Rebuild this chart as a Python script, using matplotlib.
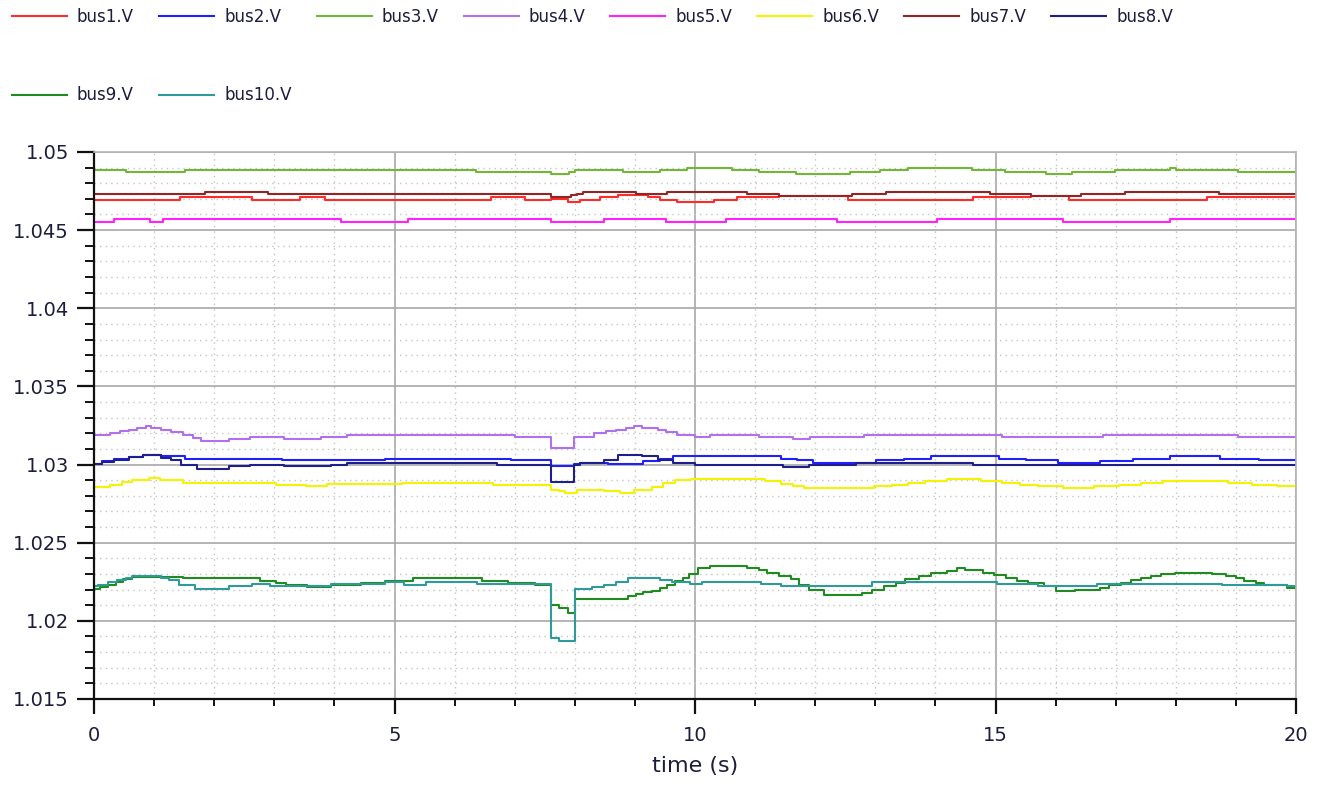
import matplotlib
matplotlib.use("Agg")
import matplotlib.pyplot as plt
from matplotlib.ticker import MultipleLocator, FuncFormatter

# step-wise readings of each bus voltage (time in s, value in pu)
t1 = [0, 1.43, 2.63, 3.42, 3.85, 6.61, 7.17, 7.6, 7.89, 8.09, 8.42, 8.72, 9.21, 9.41, 9.7,
      10.31, 10.69, 11.4, 12.54, 14.62, 15.59, 16.23, 18.52, 20]
v1 = [1.04694, 1.04709, 1.04694, 1.04709, 1.04694, 1.04709, 1.04694, 1.04702, 1.04681, 1.04694,
      1.04709, 1.04723, 1.04709, 1.04694, 1.04681, 1.04694, 1.04709, 1.04719, 1.04694, 1.04709,
      1.04719, 1.04694, 1.04709, 1.04709]

t2 = [0, 0.13, 0.33, 0.59, 0.82, 1.12, 1.51, 3.13, 4.84, 6.94, 7.6, 7.99, 8.09, 8.55, 9.14, 9.41,
      9.64, 10.0, 11.43, 11.69, 11.96, 13.01, 13.47, 13.93, 15.05, 15.51, 16.04, 16.73, 17.29,
      17.91, 18.73, 19.39, 20]
v2 = [1.03006, 1.03021, 1.03036, 1.03049, 1.03064, 1.03057, 1.03038, 1.03026, 1.03038, 1.03026,
      1.02989, 1.03006, 1.03011, 1.03004, 1.03021, 1.03036, 1.03057, 1.03053, 1.03038, 1.03026,
      1.03011, 1.03026, 1.03038, 1.03053, 1.03038, 1.03026, 1.03011, 1.03021, 1.03038, 1.03053,
      1.03038, 1.03026, 1.03026]

t3 = [0, 0.53, 1.51, 6.35, 7.6, 7.9, 8.0, 8.8, 9.41, 9.87, 10.61, 11.07, 11.68, 12.58, 13.08,
      13.54, 14.6, 15.15, 15.84, 16.27, 16.99, 17.91, 18.01, 19.03, 20]
v3 = [1.04885, 1.04872, 1.04885, 1.04872, 1.0486, 1.04872, 1.04885, 1.04872, 1.04885, 1.0490,
      1.04885, 1.04872, 1.0486, 1.04872, 1.04885, 1.0490, 1.04885, 1.04872, 1.0486, 1.04872,
      1.04885, 1.0490, 1.04885, 1.04872, 1.04872]

t4 = [0, 0.26, 0.43, 0.59, 0.72, 0.86, 0.95, 1.12, 1.28, 1.48, 1.64, 1.78, 2.24, 2.6, 3.16, 3.78,
      4.21, 7.0, 7.6, 7.99, 8.32, 8.52, 8.68, 8.85, 8.98, 9.11, 9.38, 9.51, 9.7, 10.0, 10.25,
      11.07, 11.63, 11.92, 12.81, 15.11, 16.79, 19.03, 20]
v4 = [1.03191, 1.03202, 1.03213, 1.03223, 1.03234, 1.03245, 1.03234, 1.03223, 1.03209, 1.03191,
      1.0317, 1.03153, 1.03166, 1.03179, 1.03166, 1.03179, 1.03191, 1.03179, 1.03106, 1.03179,
      1.03202, 1.03213, 1.03223, 1.03234, 1.03245, 1.03234, 1.03223, 1.03209, 1.03191, 1.03179,
      1.03191, 1.03179, 1.03166, 1.03179, 1.03191, 1.03179, 1.03191, 1.03179, 1.03179]

t5 = [0, 0.33, 0.93, 1.15, 4.11, 5.23, 7.6, 8.49, 9.51, 10.51, 12.36, 14.03, 16.13, 17.91, 20]
v5 = [1.04555, 1.04568, 1.04555, 1.04568, 1.04555, 1.04568, 1.04555, 1.04568, 1.04555, 1.04568,
      1.04555, 1.04568, 1.04555, 1.04568, 1.04568]

t6 = [0, 0.26, 0.46, 0.63, 0.92, 1.09, 1.48, 3.03, 3.52, 3.88, 5.13, 6.64, 7.6, 7.73, 7.83, 8.03,
      8.49, 8.75, 8.98, 9.28, 9.47, 9.67, 9.93, 11.17, 11.43, 11.63, 11.82, 12.02, 12.98, 13.27,
      13.54, 13.83, 14.19, 14.75, 15.11, 15.41, 15.71, 16.13, 16.63, 17.05, 17.42, 17.78, 18.86,
      19.26, 19.69, 20]
v6 = [1.02855, 1.02872, 1.02887, 1.02898, 1.02911, 1.02898, 1.02885, 1.02872, 1.0286, 1.02877,
      1.02885, 1.02872, 1.0284, 1.0283, 1.02821, 1.0284, 1.0283, 1.02821, 1.02834, 1.02855,
      1.02885, 1.02898, 1.02909, 1.02894, 1.02877, 1.02864, 1.02851, 1.02847, 1.0286, 1.02872,
      1.02885, 1.02894, 1.02909, 1.02894, 1.02885, 1.02872, 1.0286, 1.02847, 1.0286, 1.02872,
      1.02885, 1.02894, 1.02885, 1.02872, 1.0286, 1.0286]

t7 = [0, 1.84, 2.89, 7.6, 7.93, 8.03, 8.13, 9.01, 9.54, 10.87, 11.4, 12.61, 13.17, 14.9, 15.59,
      16.42, 17.15, 18.72, 20]
v7 = [1.04734, 1.04747, 1.04734, 1.04709, 1.04723, 1.04734, 1.04747, 1.04734, 1.04747, 1.04734,
      1.04719, 1.04734, 1.04747, 1.04734, 1.04719, 1.04734, 1.04747, 1.04734, 1.04734]

t8 = [0, 0.13, 0.33, 0.59, 0.82, 1.12, 1.28, 1.45, 1.71, 2.24, 2.6, 3.16, 3.95, 4.21, 6.71, 7.6,
      7.99, 8.09, 8.49, 8.72, 9.11, 9.38, 9.64, 10.0, 11.46, 11.89, 12.68, 14.62, 20]
v8 = [1.03006, 1.03017, 1.03032, 1.03049, 1.03064, 1.03043, 1.03026, 1.0300, 1.02974, 1.02989,
      1.0300, 1.02989, 1.0300, 1.03011, 1.0300, 1.02889, 1.0300, 1.03011, 1.03032, 1.03064,
      1.03053, 1.03032, 1.03011, 1.0300, 1.02985, 1.0300, 1.03011, 1.0300, 1.0300]

t9 = [0, 0.1, 0.23, 0.36, 0.49, 0.63, 1.48, 2.76, 3.03, 3.19, 3.55, 3.95, 4.44, 4.84, 5.3, 6.45,
      6.88, 7.34, 7.6, 7.73, 7.89, 8.01, 8.88, 9.01, 9.14, 9.28, 9.41, 9.54, 9.67, 9.8, 9.9,
      10.05, 10.25, 10.87, 11.07, 11.2, 11.4, 11.6, 11.73, 11.89, 12.15, 12.78, 12.94, 13.14,
      13.34, 13.5, 13.73, 13.93, 14.19, 14.36, 14.49, 14.79, 14.98, 15.18, 15.35, 15.54, 15.81,
      16.0, 16.33, 16.73, 16.89, 17.09, 17.25, 17.42, 17.58, 17.75, 17.98, 18.6, 18.83, 19.0,
      19.13, 19.33, 19.46, 19.85, 20]
v9 = [1.02206, 1.02217, 1.02232, 1.02247, 1.02265, 1.02282, 1.02271, 1.02258, 1.02243, 1.02228,
      1.02217, 1.02228, 1.02243, 1.02254, 1.02271, 1.02258, 1.02243, 1.02232, 1.02103, 1.02082,
      1.02049, 1.0214, 1.02157, 1.02172, 1.02183, 1.02194, 1.02211, 1.02232, 1.02254, 1.02275,
      1.02297, 1.02335, 1.02351, 1.0234, 1.02323, 1.02303, 1.02286, 1.02265, 1.02232, 1.022,
      1.02168, 1.02178, 1.022, 1.02222, 1.02243, 1.02265, 1.02286, 1.02303, 1.02318, 1.02335,
      1.02325, 1.02308, 1.02292, 1.02275, 1.02254, 1.02239, 1.02222, 1.02194, 1.022, 1.02211,
      1.02228, 1.02243, 1.0226, 1.02275, 1.02286, 1.02297, 1.02308, 1.02297, 1.02286, 1.02271,
      1.02258, 1.02243, 1.02228, 1.02211, 1.02211]

t10 = [0, 0.07, 0.23, 0.39, 0.53, 0.63, 1.12, 1.25, 1.41, 1.68, 2.24, 2.63, 2.93, 3.95, 4.84,
       5.16, 5.53, 6.38, 7.6, 7.73, 8.01, 8.29, 8.49, 8.68, 8.88, 9.41, 9.61, 9.92, 10.12, 11.1,
       11.43, 12.94, 15.02, 15.71, 16.69, 18.77, 19.85, 20]
v10 = [1.02222, 1.02232, 1.02247, 1.0226, 1.02275, 1.02286, 1.02275, 1.0226, 1.02232, 1.02206,
       1.02222, 1.02237, 1.02222, 1.02237, 1.0225, 1.02232, 1.0225, 1.02237, 1.01888, 1.0187,
       1.02206, 1.02219, 1.02232, 1.0225, 1.02271, 1.0226, 1.0225, 1.02237, 1.0225, 1.02237,
       1.02222, 1.0225, 1.02237, 1.02222, 1.02237, 1.02228, 1.02222, 1.02222]

labels = ["bus1.V", "bus2.V", "bus3.V", "bus4.V", "bus5.V",
          "bus6.V", "bus7.V", "bus8.V", "bus9.V", "bus10.V"]
colors = ["#ff2a2a", "#2020ff", "#72b834", "#b070f0", "#ff22ff",
          "#f4f400", "#952525", "#1e1e8c", "#1f8c1f", "#2f9a9a"]
times = [t1, t2, t3, t4, t5, t6, t7, t8, t9, t10]
values = [v1, v2, v3, v4, v5, v6, v7, v8, v9, v10]

txt = "#1c1c3c"

fig = plt.figure(figsize=(13.24, 7.89), dpi=100)
ax = fig.add_axes([0.0710, 0.1141, 0.9079, 0.6933])

lines = []
for t, v, c, lab in zip(times, values, colors, labels):
    ln, = ax.plot(t, v, drawstyle="steps-post", color=c, lw=1.5, label=lab)
    lines.append(ln)

ax.set_xlim(0, 20)
ax.set_ylim(1.015, 1.05)
ax.xaxis.set_major_locator(MultipleLocator(5))
ax.xaxis.set_minor_locator(MultipleLocator(1))
ax.yaxis.set_major_locator(MultipleLocator(0.005))
ax.yaxis.set_minor_locator(MultipleLocator(0.001))
ax.yaxis.set_major_formatter(FuncFormatter(lambda y, p: "%g" % round(y, 4)))

ax.grid(which="major", color="#a8a8a8", lw=1.2, ls="-")
ax.grid(which="minor", color="#c4c4c4", lw=1.0, ls=(0, (1, 3)))
ax.set_axisbelow(True)

for s in ["left", "bottom"]:
    ax.spines[s].set_color("#111111")
    ax.spines[s].set_linewidth(1.6)
for s in ["top", "right"]:
    ax.spines[s].set_color("#b4b4b4")
    ax.spines[s].set_linewidth(1.2)

ax.tick_params(axis="y", which="major", length=12, width=1.6, pad=6, labelsize=14, colors="#111111", labelcolor=txt)
ax.tick_params(axis="y", which="minor", length=6.5, width=1.4, colors="#111111")
ax.tick_params(axis="x", which="major", length=10.5, width=1.6, pad=9, labelsize=14, colors="#111111", labelcolor=txt)
ax.tick_params(axis="x", which="minor", length=5, width=1.4, colors="#111111")

ax.set_xlabel("time (s)", fontsize=16, color=txt, labelpad=8)

# legend fills column by column: order so rows read bus1..bus8 / bus9, bus10
order = [0, 8, 1, 9, 2, 3, 4, 5, 6, 7]
fig.legend([lines[i] for i in order], [labels[i] for i in order],
           loc="upper left", bbox_to_anchor=(12 / 1324, 1 - 7.5 / 789), ncol=8, frameon=False,
           fontsize=12, handlelength=3.3, handletextpad=0.6, columnspacing=1.5,
           labelspacing=3.65, borderpad=0, borderaxespad=0, labelcolor=txt)

fig.savefig("out.png", dpi=100)
